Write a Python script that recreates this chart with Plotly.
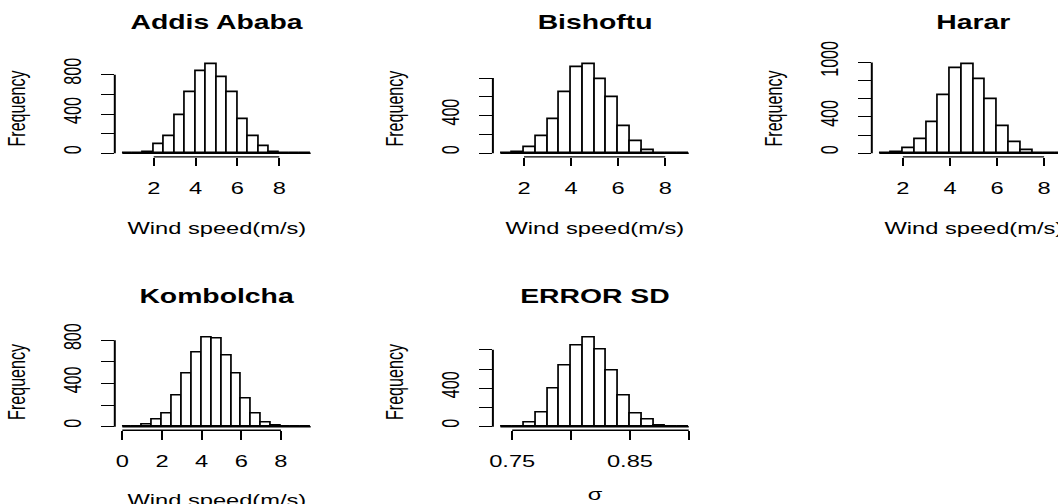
import plotly.graph_objects as go

# ---------------- data ----------------
titles = ["Addis Ababa", "Bishoftu", "Harar", "Kombolcha", "ERROR SD"]
x_titles = ["Wind speed(m/s)", "Wind speed(m/s)", "Wind speed(m/s)", "Wind speed(m/s)", "σ"]

# histogram bins: first break, bin width, counts per bin
addis_start, addis_width = 0.5, 0.5
addis_counts = [1, 3, 14, 95, 177, 391, 620, 834, 912, 773, 620, 347, 177, 68, 14, 3, 1, 1]

bishoftu_start, bishoftu_width = 1.0, 0.5
bishoftu_counts = [2, 11, 63, 183, 359, 645, 916, 951, 786, 592, 289, 130, 28, 6, 2, 1]

harar_start, harar_width = 1.0, 0.5
harar_counts = [1, 8, 55, 154, 338, 636, 937, 985, 820, 596, 294, 118, 30, 6, 2, 1]

kombolcha_start, kombolcha_width = 0.0, 0.5
kombolcha_counts = [1, 4, 16, 65, 118, 288, 490, 688, 828, 815, 660, 490, 258, 118, 34, 9, 3, 1, 1]

sd_start, sd_width = 0.74, 0.01
sd_counts = [1, 4, 38, 149, 393, 633, 849, 932, 800, 584, 323, 132, 70, 10, 3, 1]

# tick positions and labels
wind_xticks = [2, 4, 6, 8]
wind_xticktext = ["2", "4", "6", "8"]
kombolcha_xticks = [0, 2, 4, 6, 8]
kombolcha_xticktext = ["0", "2", "4", "6", "8"]
sd_xticks = [0.75, 0.80, 0.85, 0.90]
sd_xticktext = ["0.75", "", "0.85", ""]

yticks_800 = [0, 200, 400, 600, 800]
yticks_1000 = [0, 200, 400, 600, 800, 1000]
addis_yticktext = ["0", "", "400", "", "800"]
bishoftu_yticktext = ["0", "", "400", "", ""]
harar_yticktext = ["0", "", "400", "", "", "1000"]
kombolcha_yticktext = ["0", "", "400", "", "800"]
sd_yticktext = ["0", "", "400", "", ""]

# ---------------- layout constants (pixels) ----------------
FIG_W, FIG_H = 1058, 504
WIDE = 1.4694                   # glyphs are drawn wider than tall
COL_LEFT = [114.8, 492.9, 871.8]
ROW_TOP = [60.2, 333.6]
PLOT_W, PLOT_H = 203.4, 96.7
TITLE_Y = [23.0, 296.4]
XLAB_Y = [228.0, 499.5]
SIGMA_Y = 493.5
YLAB_DX = 98.0
LW_H = 1.4                      # horizontal strokes
LW_V = 2.0                      # vertical strokes
XTICK_LEN = 8.5
YTICK_LEN = 12.5
FONT = "Liberation Sans, Arial, sans-serif"
F_AXIS = 16.1
F_MAIN = 19.3
F_ROT = F_AXIS * WIDE

panels = [
    dict(title=titles[0], xlab=x_titles[0], start=addis_start, width=addis_width, counts=addis_counts,
         xticks=wind_xticks, xticktext=wind_xticktext, yticks=yticks_800, yticktext=addis_yticktext, row=0, col=0),
    dict(title=titles[1], xlab=x_titles[1], start=bishoftu_start, width=bishoftu_width, counts=bishoftu_counts,
         xticks=wind_xticks, xticktext=wind_xticktext, yticks=yticks_800, yticktext=bishoftu_yticktext, row=0, col=1),
    dict(title=titles[2], xlab=x_titles[2], start=harar_start, width=harar_width, counts=harar_counts,
         xticks=wind_xticks, xticktext=wind_xticktext, yticks=yticks_1000, yticktext=harar_yticktext, row=0, col=2),
    dict(title=titles[3], xlab=x_titles[3], start=kombolcha_start, width=kombolcha_width, counts=kombolcha_counts,
         xticks=kombolcha_xticks, xticktext=kombolcha_xticktext, yticks=yticks_800, yticktext=kombolcha_yticktext, row=1, col=0),
    dict(title=titles[4], xlab=x_titles[4], start=sd_start, width=sd_width, counts=sd_counts,
         xticks=sd_xticks, xticktext=sd_xticktext, yticks=yticks_800, yticktext=sd_yticktext, row=1, col=1),
]

fig = go.Figure()
layout = {}
shapes = []
annotations = []

for i, p in enumerate(panels):
    n = i + 1
    xa = "x" if n == 1 else f"x{n}"
    ya = "y" if n == 1 else f"y{n}"
    nb = len(p["counts"])
    b0 = p["start"]
    b1 = p["start"] + nb * p["width"]
    centers = [b0 + (k + 0.5) * p["width"] for k in range(nb)]

    fig.add_trace(go.Bar(
        x=centers, y=p["counts"], width=p["width"], xaxis=xa, yaxis=ya,
        marker=dict(color="white", line=dict(color="black", width=1.7)),
        showlegend=False, hoverinfo="skip",
    ))

    span = b1 - b0
    xr = [b0 - 0.04 * span, b1 + 0.04 * span]
    left = COL_LEFT[p["col"]]
    right = left + PLOT_W
    if right > FIG_W:  # panel runs past the right edge of the page
        xr[1] = xr[0] + (xr[1] - xr[0]) * (FIG_W - left) / PLOT_W
        right = FIG_W
    top = ROW_TOP[p["row"]]
    bottom = top + PLOT_H
    ymax = max(p["counts"])
    yr = [-0.04 * ymax, 1.04 * ymax]

    layout["xaxis" if n == 1 else f"xaxis{n}"] = dict(
        domain=[left / FIG_W, right / FIG_W], range=xr, anchor=ya, automargin=False,
        showline=False, showgrid=False, zeroline=False,
        ticks="outside", ticklen=XTICK_LEN, tickwidth=LW_V, tickcolor="black",
        tickmode="array", tickvals=p["xticks"], ticktext=p["xticktext"],
        tickfont=dict(family=FONT, size=F_AXIS, color="black"),
        ticklabelstandoff=8, fixedrange=True,
    )
    layout["yaxis" if n == 1 else f"yaxis{n}"] = dict(
        domain=[1 - bottom / FIG_H, 1 - top / FIG_H], range=yr, anchor=xa, automargin=False,
        showline=False, showgrid=False, zeroline=False,
        ticks="outside", ticklen=YTICK_LEN, tickwidth=LW_H, tickcolor="black",
        tickmode="array", tickvals=p["yticks"], ticktext=p["yticktext"],
        tickangle=-90, tickfont=dict(family=FONT, size=F_ROT, color="black"),
        ticklabelstandoff=11, fixedrange=True,
    )

    # R-style axis lines spanning first to last tick, and the histogram baseline
    shapes.append(dict(type="line", xref=xa, yref=f"{ya} domain",
                       x0=p["xticks"][0], x1=p["xticks"][-1], y0=0, y1=0,
                       line=dict(color="black", width=LW_H)))
    shapes.append(dict(type="line", xref=f"{xa} domain", yref=ya,
                       x0=0, x1=0, y0=p["yticks"][0], y1=p["yticks"][-1],
                       line=dict(color="black", width=LW_V)))
    shapes.append(dict(type="line", xref=xa, yref=ya,
                       x0=b0, x1=b1, y0=0, y1=0,
                       line=dict(color="black", width=LW_H)))

    cx = (left + PLOT_W / 2) / FIG_W
    annotations.append(dict(
        text=p["title"], x=cx, y=1 - TITLE_Y[p["row"]] / FIG_H, xref="paper", yref="paper",
        showarrow=False, xanchor="center", yanchor="middle",
        font=dict(family=FONT, size=F_MAIN, color="black", weight="bold"),
    ))
    xlab_y = SIGMA_Y if p["xlab"] == "σ" else XLAB_Y[p["row"]]
    annotations.append(dict(
        text=p["xlab"], x=cx, y=1 - xlab_y / FIG_H, xref="paper", yref="paper",
        showarrow=False, xanchor="center", yanchor="middle",
        font=dict(family=FONT, size=F_AXIS, color="black"),
    ))
    annotations.append(dict(
        text="Frequency", x=(left - YLAB_DX) / FIG_W, y=1 - (top + PLOT_H / 2) / FIG_H,
        xref="paper", yref="paper", showarrow=False, textangle=-90,
        xanchor="center", yanchor="middle",
        font=dict(family=FONT, size=F_ROT, color="black"),
    ))

fig.update_layout(
    template="none",
    width=FIG_W, height=FIG_H,
    margin=dict(l=0, r=0, t=0, b=0, pad=0),
    paper_bgcolor="white", plot_bgcolor="white",
    bargap=0, showlegend=False,
    shapes=shapes, annotations=annotations,
    **layout,
)

# Widen horizontal labels and narrow the rotated ones along their baseline,
# so every glyph gets the same wide aspect.
post = """
var gd = document.getElementById('{plot_id}');
var k = %f;
function fit(t, f) {
  var L = t.getComputedTextLength();
  if (L > 0) {
    t.setAttribute('textLength', (L * f).toFixed(2));
    t.setAttribute('lengthAdjust', 'spacingAndGlyphs');
  }
}
gd.querySelectorAll('g.annotation').forEach(function (g) {
  var a = gd._fullLayout.annotations[+g.getAttribute('data-index')];
  var t = g.querySelector('text.annotation-text');
  if (t && a) fit(t, a.textangle ? 1 / k : k);
});
gd.querySelectorAll('g[class$="tick"] > text').forEach(function (t) {
  var cls = t.parentNode.getAttribute('class') || '';
  if (cls.charAt(0) === 'x') fit(t, k);
  else if (cls.charAt(0) === 'y') fit(t, 1 / k);
});
""" % WIDE

fig.write_html("out.html", post_script=post, config={"displayModeBar": False})
